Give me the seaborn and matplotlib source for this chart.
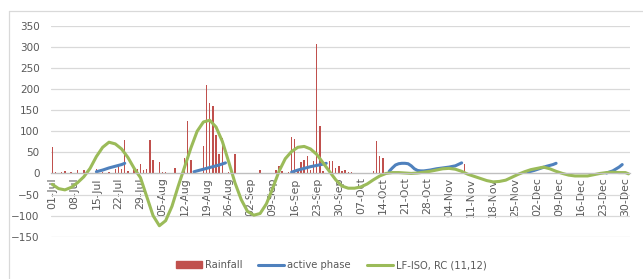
import numpy as np
import pandas as pd
import matplotlib
matplotlib.use('Agg')
import matplotlib.pyplot as plt
import seaborn as sns
from matplotlib.patches import Patch
from matplotlib.lines import Line2D

# daily axis 01-Jul .. 31-Dec
dates = pd.date_range('2019-07-01', '2019-12-31', freq='D')

# rainfall (mm), only the days with rain
rain_days = [0, 1, 3, 4, 6, 8, 10, 14, 16, 18, 20, 21, 22, 23, 24, 26, 27, 28, 29, 30, 31, 32,
             34, 35, 36, 39, 42, 43, 44, 48, 49, 50, 51, 52, 53, 54, 56, 57, 58, 59, 60,
             63, 65, 66, 70, 71, 72, 73, 75, 76, 77, 78, 79, 80, 81, 82, 83, 84, 85, 86,
             88, 89, 90, 91, 92, 93, 94, 95, 102, 103, 104, 105, 114, 131, 166, 169]
rain_mm = [63, 4, 3, 5, 3, 8, 9, 11, 3, 3, 11, 17, 10, 80, 5, 10, 10, 23, 7, 11, 80, 31,
           27, 4, 4, 12, 37, 125, 33, 66, 210, 167, 159, 92, 46, 85, 3, 3, 47, 2, 2,
           2, 2, 7, 2, 9, 17, 5, 3, 87, 82, 11, 27, 31, 42, 9, 29, 306, 113, 5,
           29, 29, 13, 17, 5, 9, 4, 4, 5, 76, 42, 37, 3, 23, 2, 2]

# LF-ISO reconstructed component, read every 2 days
lf_days = [0, 2, 4, 6, 8, 10, 12, 14, 16, 18, 20, 22, 24, 26, 28, 30, 32, 34, 36, 38, 40,
           42, 44, 46, 48, 50, 52, 54, 56, 58, 60, 62, 64, 66, 68, 70, 72, 74, 76, 78, 80,
           82, 84, 86, 88, 90, 92, 94, 96, 98, 100, 102, 104, 106, 108, 110, 112, 114, 116,
           118, 120, 122, 124, 126, 128, 130, 132, 134, 136, 138, 140, 142, 144, 146, 148,
           150, 152, 154, 156, 158, 160, 162, 164, 166, 168, 170, 172, 174, 176, 178, 180,
           182, 183]
lf_vals = [-26, -36, -39, -33, -22, -8, 12, 40, 62, 74, 70, 58, 38, 12, -10, -55, -100, -124,
           -112, -78, -30, 15, 60, 100, 122, 126, 110, 76, 28, -22, -62, -90, -99, -95, -72,
           -35, 5, 35, 52, 62, 64, 58, 45, 25, 5, -15, -30, -35, -35, -32, -25, -15, -6, 0,
           2, 2, 1, 0, 1, 3, 5, 8, 11, 12, 10, 5, -2, -7, -12, -17, -20, -19, -16, -9, -2,
           4, 9, 12, 15, 11, 5, 0, -4, -6, -6, -6, -3, 0, 2, 3, 2, 2, -1]

# active phase segments
act_seg = [1, 1, 1, 1, 1, 1,
           2, 2, 2, 2, 2, 2,
           3, 3, 3, 3, 3, 3, 3,
           4, 4, 4, 4, 4, 4, 4, 4, 4, 4, 4, 4, 4, 4, 4, 4, 4, 4,
           5, 5, 5, 5, 5, 5,
           6, 6, 6, 6]
act_days = [14, 16, 18, 20, 22, 23,
            45, 47, 49, 51, 53, 55,
            76, 78, 80, 82, 84, 86, 87,
            107, 108, 109, 110, 111, 112, 113, 114, 115, 116, 117, 118, 120, 122, 124, 126, 128, 130,
            151, 153, 155, 157, 159, 160,
            176, 178, 180, 181]
act_vals = [4, 8, 13, 17, 21, 24,
            4, 8, 12, 16, 20, 25,
            3, 8, 12, 16, 19, 22, 24,
            5, 13, 20, 23, 24, 24, 23, 18, 11, 7, 6, 6, 8, 11, 13, 15, 18, 25,
            3, 7, 12, 17, 21, 24,
            1, 6, 15, 21]

RED = '#C0504D'
BLUE = '#4F81BD'
GREEN = '#9BBB59'
TXT = '#595959'

rain = np.zeros(len(dates))
rain[rain_days] = rain_mm
rain_df = pd.DataFrame({'day': np.arange(len(dates)), 'rain': rain})
lf_df = pd.DataFrame({'day': lf_days, 'val': lf_vals})
act_df = pd.DataFrame({'seg': act_seg, 'day': act_days, 'val': act_vals})

sns.set_theme(style='white')
plt.rcParams['font.family'] = ['DejaVu Sans']

fig = plt.figure(figsize=(6.43, 2.79), dpi=100)
ax = fig.add_axes([0.0789, 0.1516, 0.901, 0.756])

sns.barplot(data=rain_df, x='day', y='rain', native_scale=True, width=0.45,
            color=RED, saturation=1, errorbar=None, linewidth=0, ax=ax)
sns.lineplot(data=act_df, x='day', y='val', units='seg', estimator=None,
             color=BLUE, lw=2.2, ax=ax)
sns.lineplot(data=lf_df, x='day', y='val', color=GREEN, lw=2.2, ax=ax)

ax.set_xlim(-0.5, len(dates) - 0.5)
ax.set_ylim(-150, 350)
ax.set_yticks(range(-150, 351, 50))
ax.yaxis.grid(True, color='#D9D9D9', lw=0.9)
ax.set_axisbelow(True)
for s in ['left', 'right', 'top']:
    ax.spines[s].set_visible(False)
ax.spines['bottom'].set_position(('data', 0))
ax.spines['bottom'].set_color('#BFBFBF')
ax.spines['bottom'].set_linewidth(0.9)

tick_days = list(range(0, len(dates), 7))
ax.set_xticks(tick_days)
ax.set_xticklabels([dates[d].strftime('%d-%b') for d in tick_days], rotation=90,
                   fontsize=7.8, color=TXT)
ax.set_xticks([d - 0.5 for d in tick_days], minor=True)
ax.tick_params(axis='x', which='major', length=0, pad=3)
ax.tick_params(axis='x', which='minor', length=4, color='#BFBFBF', width=0.8)
ax.tick_params(axis='y', length=0, pad=8, labelsize=7.5, labelcolor=TXT)
ax.set_xlabel('')
ax.set_ylabel('')

handles = [Patch(color=RED), Line2D([], [], color=BLUE, lw=2.2), Line2D([], [], color=GREEN, lw=2.2)]
leg = fig.legend(handles, ['Rainfall', 'active phase', 'LF-ISO, RC (11,12)'], loc='center',
                 bbox_to_anchor=(0.515, 0.05), ncol=3, frameon=False, fontsize=7.2,
                 handlelength=2.6, handletextpad=0.3, columnspacing=1.6)
for t in leg.get_texts():
    t.set_color(TXT)

# chart border
fig.add_artist(Line2D([9 / 643, 9 / 643], [0, 1 - 11 / 279], transform=fig.transFigure,
                      color='#D9D9D9', lw=0.9))
fig.add_artist(Line2D([9 / 643, 1], [1 - 11 / 279, 1 - 11 / 279], transform=fig.transFigure,
                      color='#D9D9D9', lw=0.9))

fig.savefig('out.png', dpi=100)
